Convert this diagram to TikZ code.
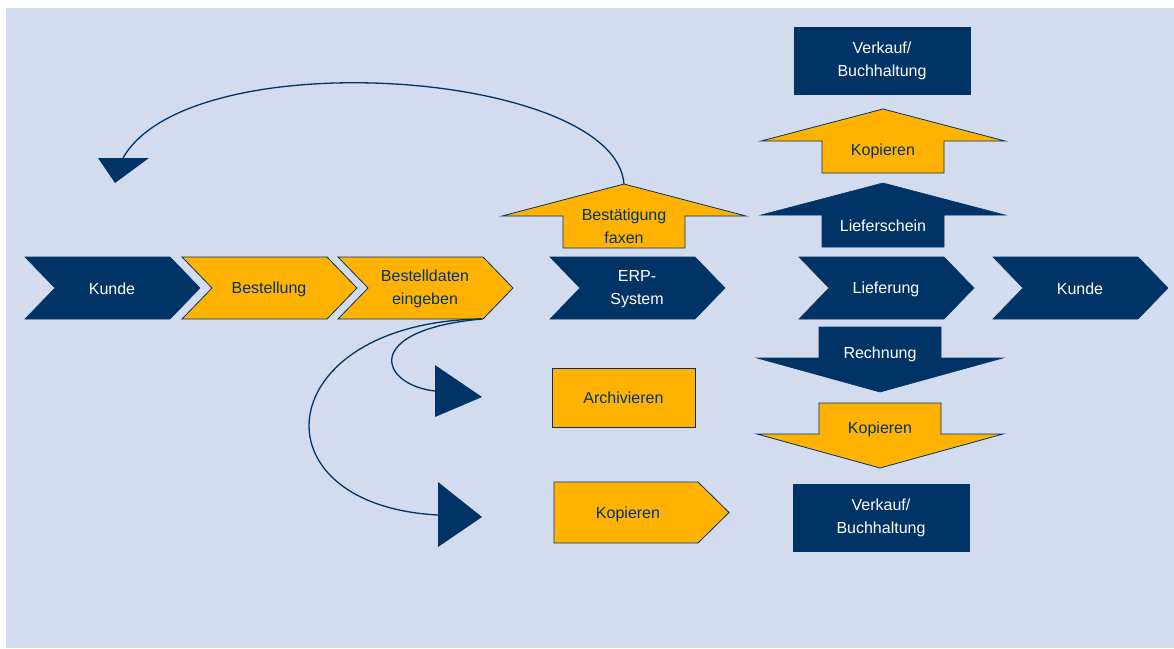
\documentclass[tikz,border=0pt]{standalone}
\usepackage{fontspec}
\setmainfont{Liberation Sans}
\definecolor{navy}{RGB}{0,51,102}
\definecolor{gold}{RGB}{255,179,0}
\definecolor{paper}{RGB}{211,220,238}
\begin{document}
\begin{tikzpicture}[x=1pt,y=-1pt,
  darkshape/.style={fill=navy,draw=navy,line width=0.6pt,line join=miter},
  goldshape/.style={fill=gold,draw=navy,line width=0.8pt,line join=miter},
  lbl/.style={font=\fontsize{16}{23}\selectfont,align=center,inner sep=0pt},
  lightlbl/.style={lbl,text=white},
  darklbl/.style={lbl,text=navy},
  darkbox/.style={darkshape,lightlbl,minimum width=176pt,minimum height=67pt},
  goldbox/.style={goldshape,darklbl,minimum width=143pt,minimum height=59pt},
  flow/.style={draw=navy,line width=1.3pt},
  tipmark/.style={fill=navy},
  chev/.pic={\path[pic actions] (0,0) -- (145,0) -- (175,31) -- (145,62) -- (0,62) -- (30,31) -- cycle;},
  uparrow/.pic={\path[pic actions] (0,0) -- (122,32) -- (61,32) -- (61,64) -- (-61,64) -- (-61,32) -- (-122,32) -- cycle;},
  downarrow/.pic={\path[pic actions] (-61,0) -- (61,0) -- (61,31) -- (123,31) -- (0,65) -- (-123,31) -- (-61,31) -- cycle;}]
\useasboundingbox (0,0) rectangle (1174,648);
\fill[paper] (6,8) rectangle (1174,648);

% main process row
\pic[darkshape] at (25,257) {chev};
\pic[goldshape] at (182,257) {chev};
\pic[goldshape] at (338,257) {chev};
\pic[darkshape] at (550,257) {chev};
\pic[darkshape] at (799,257) {chev};
\pic[darkshape] at (993,257) {chev};
\node[lightlbl] (kunde1) at (112,289) {Kunde};
\node[darklbl] (bestellung) at (269,289) {Bestellung};
\node[darklbl] (eingabe) at (425,289) {Bestelldaten\\eingeben};
\node[lightlbl] (erp) at (637,289) {ERP-\\System};
\node[lightlbl] (lieferung) at (886,289) {Lieferung};
\node[lightlbl] (kunde2) at (1080,289) {Kunde};

% block arrows above and below the delivery step
\pic[goldshape] at (624,184) {uparrow};
\node[darklbl] (fax) at (624,226) {Bestätigung\\faxen};
\pic[goldshape] at (883,109) {uparrow};
\node[darklbl] (kopie1) at (883,151) {Kopieren};
\pic[darkshape] at (883,183) {uparrow};
\node[lightlbl] (lieferschein) at (883,226) {Lieferschein};
\pic[darkshape] at (880,327) {downarrow};
\node[lightlbl] (rechnung) at (880,354) {Rechnung};
\pic[goldshape] at (880,403) {downarrow};
\node[darklbl] (kopie2) at (880,429) {Kopieren};

% departments
\node[darkbox] (vb1) at (882,60.5) {Verkauf/\\Buchhaltung};
\node[darkbox] (vb2) at (881,518) {Verkauf/\\Buchhaltung};

% filing and copying of the order data
\node[goldbox] (archiv) at (623.5,397.5) {Archivieren};
\path[goldshape] (554,482) -- (698,482) -- (729,512.5) -- (698,543) -- (554,543) -- cycle;
\node[darklbl] (kopie3) at (628,514) {Kopieren};

% triangular arrow heads
\fill[tipmark] (98,158) -- (149,158) -- (115,183) -- cycle;
\fill[tipmark] (435,365) -- (482,397) -- (435,417) -- cycle;
\fill[tipmark] (438,482) -- (482,517) -- (438,547) -- cycle;

% connector end points
\coordinate (faxtop) at (624,184);
\coordinate (backtip) at (123,158);
\coordinate (dataout) at (482,319);
\coordinate (archivtip) at (435,391);
\coordinate (kopietip) at (438,515);

% connectors
\draw[flow] (faxtop) .. controls (615,70) and (190,40) .. (backtip);
\draw[flow] (dataout) .. controls (360,330) and (380,385) .. (archivtip);
\draw[flow] (dataout) .. controls (270,322) and (250,505) .. (kopietip);
\end{tikzpicture}
\end{document}
